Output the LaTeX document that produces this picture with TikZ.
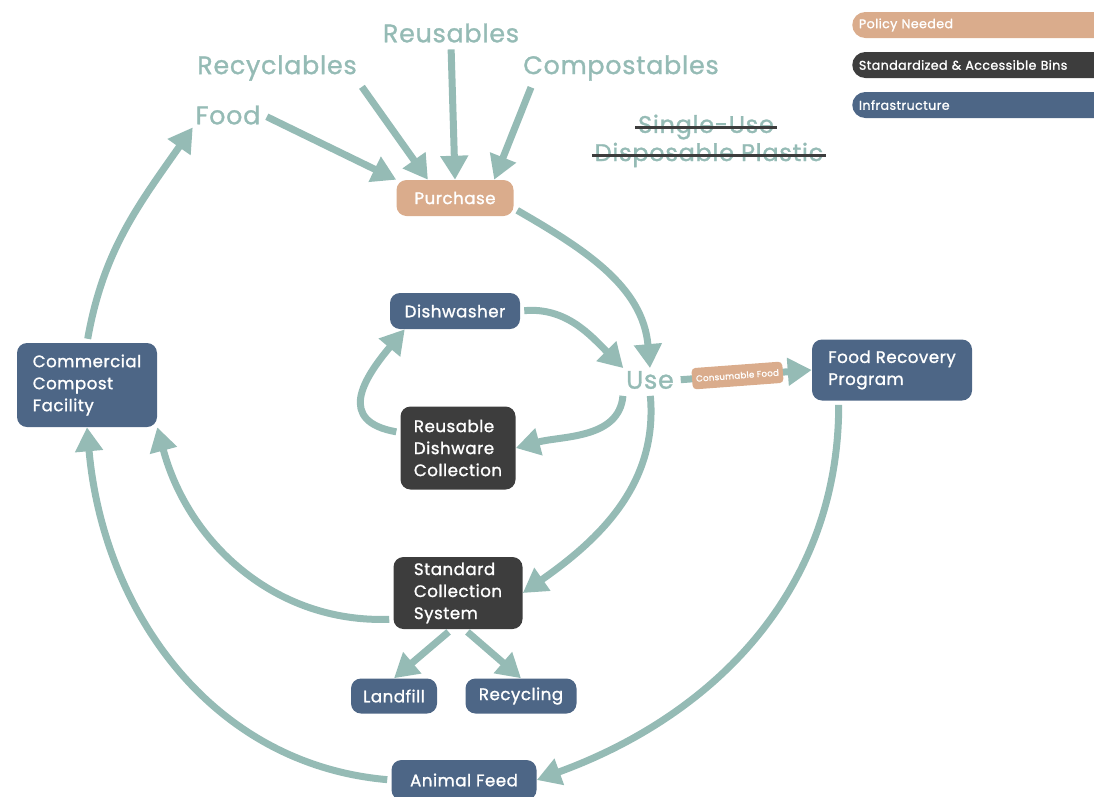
\documentclass[tikz,border=0pt]{standalone}
\usepackage{fontspec}
\setmainfont{Poppins}[LetterSpace=3, UprightFeatures={FakeBold=1.2}]
\definecolor{flowteal}{RGB}{149, 187, 181}
\definecolor{policytan}{RGB}{218, 172, 140}
\definecolor{binsdark}{RGB}{61, 61, 61}
\definecolor{infrablue}{RGB}{77, 102, 134}
\usetikzlibrary{arrows.meta, positioning}
\tikzset{
  box/.style={rounded corners=7.5pt, text=white, font=\fontsize{12.5}{16.5}\selectfont, align=left, inner sep=0pt},
  policy/.style={box, fill=policytan},
  bins/.style={box, fill=binsdark},
  infra/.style={box, fill=infrablue},
  item/.style={text=flowteal, font=\fontsize{19}{22}\selectfont, inner sep=2pt},
  flow/.style={draw=flowteal, line width=5.25pt, -{Triangle[length=18pt, width=20pt]}, shorten <=3pt},
  strike/.style={draw=binsdark, line width=2.25pt},
  key/.style={rounded corners=9.75pt, text=white, font=\fontsize{9.5}{11}\selectfont, anchor=west, minimum height=19.5pt, text width=185pt, inner xsep=5pt, align=left},
}

\begin{document}
\begin{tikzpicture}[x=0.75pt, y=0.75pt]
  \useasboundingbox (0,0) rectangle (1094,-796);

  % Legend
  \node[key, fill=policytan] (kpolicy) at (852,-25) {Policy Needed};
  \node[key, fill=binsdark] (kbins) at (852,-65) {Standardized \& Accessible Bins};
  \node[key, fill=infrablue] (kinfra) at (852,-105) {Infrastructure};

  % Inputs
  \node[item] (food) at (228,-115) {Food};
  \node[item] (recyl) at (277,-68) {Recyclables};
  \node[item] (reuse) at (451,-33) {Reusables};
  \node[item] (compst) at (621,-68) {Compostables};

  % Crossed out
  \node[item, font=\fontsize{18}{21}\selectfont] (single) at (706,-127) {Single-Use};
  \node[item, font=\fontsize{18}{21}\selectfont] (plastic) at (709,-155) {Disposable Plastic};
  \draw[strike] (single.west) -- (single.east);
  \draw[strike] (plastic.west) -- (plastic.east);

  % Boxes
  \node[policy, minimum width=87.75pt, minimum height=27pt] (purchase) at (455,-198) {Purchase};
  \node[item] (use) at (650,-380) {Use};
  \node[infra, minimum width=97.5pt, minimum height=27pt] (dish) at (455,-311) {Dishwasher};
  \node[bins, minimum width=86.25pt, minimum height=62.25pt] (reus) at (458,-448) {Reusable\\Dishware\\Collection};
  \node[infra, minimum width=120pt, minimum height=45.75pt] (frp) at (892,-370) {Food Recovery\\Program};
  \node[infra, minimum width=105pt, minimum height=63pt] (cmpfac) at (87,-385) {Commercial\\Compost\\Facility};
  \node[bins, minimum width=96.75pt, minimum height=54pt] (stdcol) at (458,-593) {Standard\\Collection\\System};
  \node[infra, minimum width=64.5pt, minimum height=26.25pt] (landfill) at (394,-696) {Landfill};
  \node[infra, minimum width=83.25pt, minimum height=26.25pt] (recyc) at (521,-696) {Recycling};
  \node[infra, minimum width=108.75pt, minimum height=30pt] (afeed) at (464,-780) {Animal Feed};

  % Flows into purchase
  \draw[flow] (food.east) -- (purchase.north west);
  \draw[flow] (recyl.south east) -- (purchase.146);
  \draw[flow] (reuse.south) -- (purchase.north);
  \draw[flow] (compst.190) -- (purchase.25);

  % Loop
  \draw[flow] (cmpfac.north) to[out=80, in=235] (food.south west);
  \draw[flow] (purchase.-10) to[out=-30, in=95] (use.north);
  \draw[flow] (dish.east) to[out=5, in=135] (use.north west);
  \draw[flow] (use.south west) to[out=-95, in=15] (reus.east);
  \draw[flow] (reus.165) to[out=170, in=230, looseness=1.6] (dish.-160);
  \draw[flow] (use.south) to[out=-85, in=35] (stdcol.east);
  \draw[flow] (use.east) -- node[pos=0.45, sloped, fill=policytan, rounded corners=3pt, text=white, font=\fontsize{6.5}{7}\selectfont, inner xsep=3pt, inner ysep=2pt, minimum height=16pt] (cfood) {Consumable Food} (frp.west);
  \draw[flow] (stdcol.202) to[out=182, in=-75] (cmpfac.south east);
  \draw[flow] (stdcol.-100) -- (landfill.north);
  \draw[flow] (stdcol.-80) -- (recyc.north);
  \draw[flow] (afeed.west) to[out=175, in=-85] (cmpfac.south);
  \draw[flow] (frp.-150) to[out=-90, in=20] (afeed.east);
\end{tikzpicture}
\end{document}
